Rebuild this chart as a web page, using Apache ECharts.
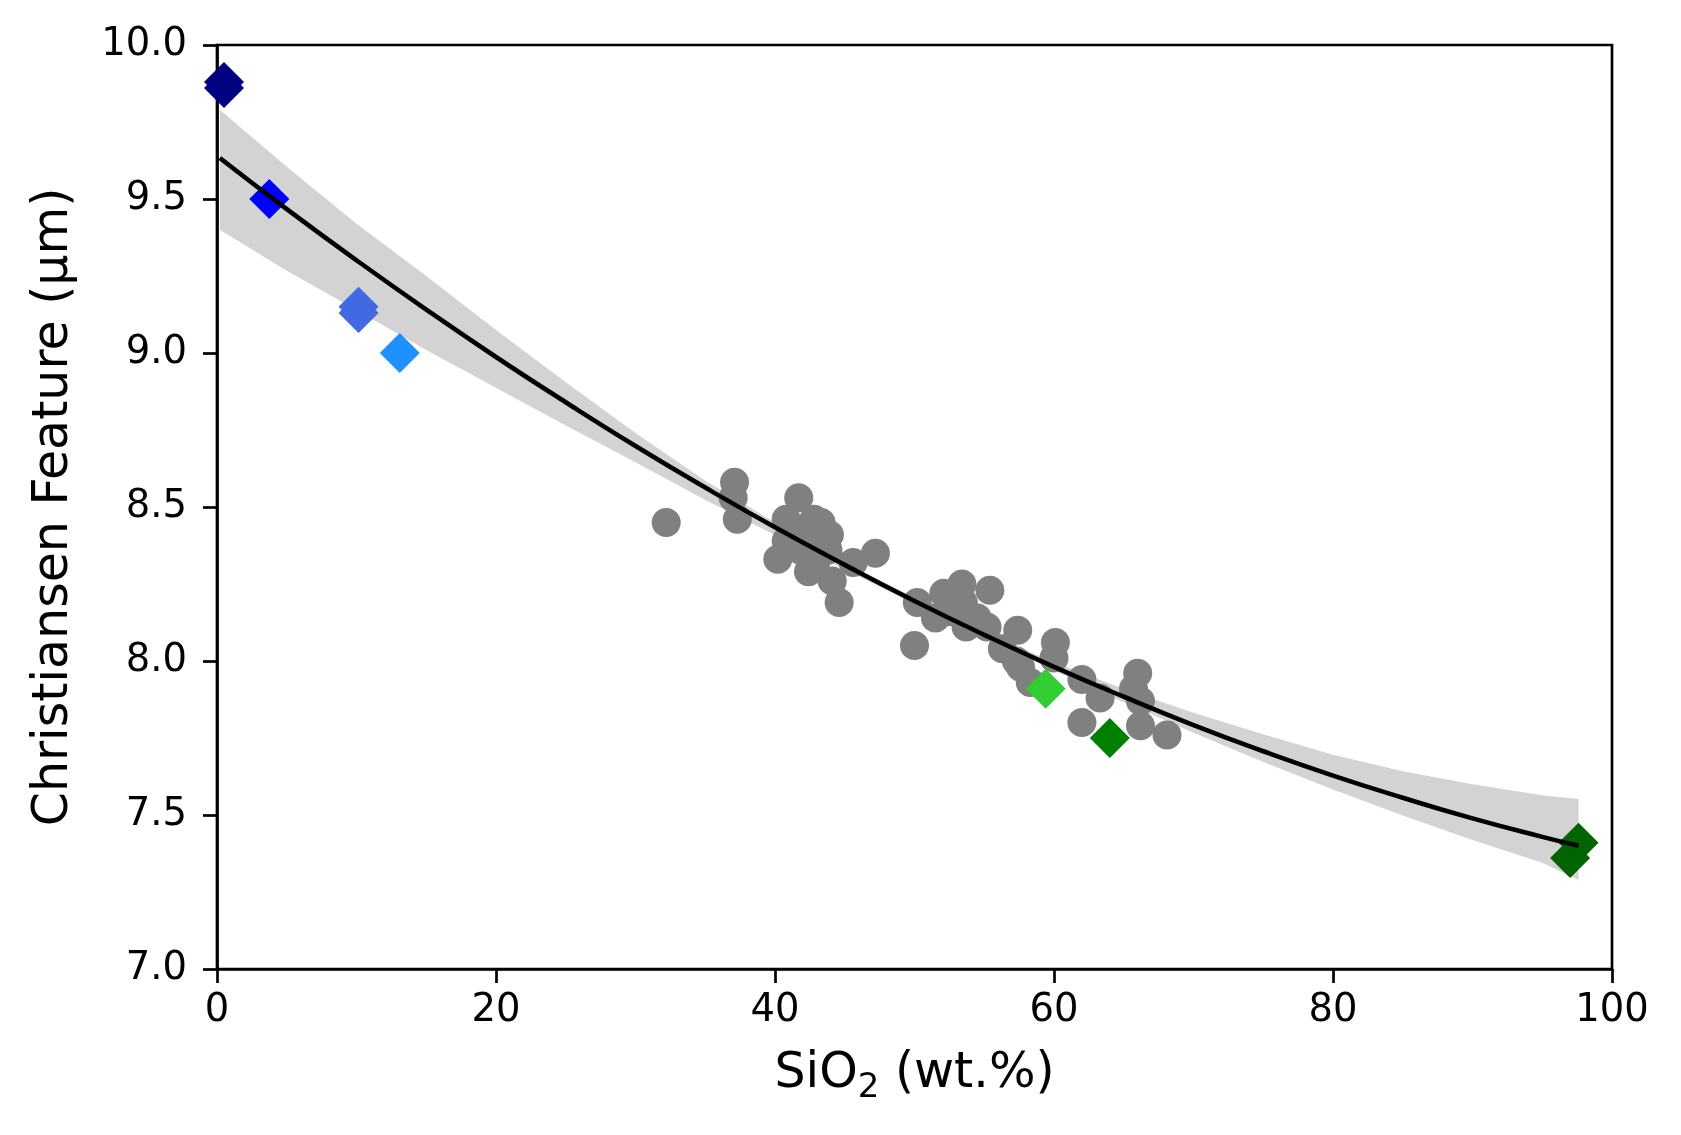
<!DOCTYPE html>
<html lang="en">
<head>
    <meta charset="utf-8">
    <title>Christiansen Feature vs SiO2</title>
    <style>
        html, body { margin: 0; padding: 0; background: #fff; }
        #main { width: 1681px; height: 1135px; }
    </style>
</head>
<body>
<div id="main"></div>
<script src="https://cdn.jsdelivr.net/npm/echarts@6/dist/echarts.min.js"></script>
<script>
    // fit curve + band
    var fitX     = [0.2, 5, 10, 15, 20, 25, 30, 35, 40, 45, 50, 55, 60, 65, 70, 75, 80, 85, 90, 95, 97.6];
    var fitY     = [9.633, 9.467, 9.301, 9.141, 8.987, 8.840, 8.698, 8.563, 8.434, 8.312, 8.195, 8.085, 7.981, 7.884, 7.792, 7.707, 7.628, 7.556, 7.489, 7.429, 7.400];
    var bandHigh = [9.79, 9.605, 9.42, 9.25, 9.075, 8.905, 8.74, 8.585, 8.45, 8.32, 8.205, 8.095, 7.996, 7.909, 7.832, 7.762, 7.696, 7.642, 7.600, 7.564, 7.552];
    var bandLow  = [9.40, 9.267, 9.14, 9.01, 8.887, 8.765, 8.645, 8.523, 8.409, 8.297, 8.185, 8.075, 7.969, 7.866, 7.767, 7.672, 7.583, 7.498, 7.419, 7.345, 7.289];

    // grey samples
    var rockPts = [
        [32.2, 8.45], [37.1, 8.58], [37.0, 8.53], [37.3, 8.46],
        [41.7, 8.53], [40.2, 8.33], [40.8, 8.46], [42.8, 8.46], [43.7, 8.40],
        [43.8, 8.36], [42.4, 8.29], [44.1, 8.26], [40.8, 8.39], [41.8, 8.36],
        [44.6, 8.19], [45.6, 8.32], [47.2, 8.35], [42.2, 8.43], [43.0, 8.33],
        [41.5, 8.42], [42.5, 8.37], [43.3, 8.45], [43.9, 8.41],
        [50.2, 8.19], [50.0, 8.05], [52.1, 8.22], [53.4, 8.25], [55.4, 8.23],
        [51.5, 8.14], [53.7, 8.11], [55.2, 8.11], [52.5, 8.16], [53.5, 8.19],
        [52.8, 8.18], [54.5, 8.14],
        [57.4, 8.10], [56.3, 8.04], [60.1, 8.06], [60.0, 8.01], [58.3, 7.93],
        [57.3, 8.00], [57.6, 7.98], [62.0, 7.94], [63.3, 7.88], [62.0, 7.80],
        [66.0, 7.96], [65.7, 7.91], [66.2, 7.87], [66.2, 7.79], [68.1, 7.76]
    ];

    // coloured standards (diamonds)
    var navyPts      = [[0.5, 9.88], [0.5, 9.86]];
    var bluePts      = [[3.75, 9.50]];
    var royalPts     = [[10.15, 9.15], [10.15, 9.13]];
    var dodgerPts    = [[13.1, 9.00]];
    var limePts      = [[59.4, 7.91]];
    var greenPts     = [[64.0, 7.75]];
    var darkGreenPts = [[97.6, 7.41], [97.0, 7.36]];

    var font = 'DejaVu Sans';

    function diamonds(pts, color) {
        return {
            type: 'scatter',
            data: pts,
            symbol: 'diamond',
            symbolSize: 40,
            itemStyle: { color: color, opacity: 1 },
            z: 3
        };
    }

    var myChart = echarts.init(document.getElementById('main'));
    var option = {
        animation: false,
        backgroundColor: '#fff',
        grid: {
            left: 217, right: 69, top: 45, bottom: 166,
            show: true, borderColor: '#000', borderWidth: 2.7, backgroundColor: 'transparent'
        },
        xAxis: {
            type: 'value',
            min: 0, max: 100, interval: 20,
            name: '{n|SiO}{s|2}{n| (wt.%)}',
            nameLocation: 'middle',
            nameGap: 81,
            nameTextStyle: {
                color: '#000',
                rich: {
                    n: { fontFamily: font, fontSize: 49, color: '#000', verticalAlign: 'top', padding: [0, 0, 6, 0] },
                    s: { fontFamily: font, fontSize: 34, color: '#000', verticalAlign: 'bottom' }
                }
            },
            axisLine: { show: true, lineStyle: { color: '#000', width: 2.7 } },
            axisTick: { show: true, inside: false, length: 14, lineStyle: { color: '#000', width: 2.7 } },
            axisLabel: { fontFamily: font, fontSize: 38.5, color: '#000', margin: 22 },
            splitLine: { show: false }
        },
        yAxis: {
            type: 'value',
            min: 7, max: 10, interval: 0.5,
            name: 'Christiansen Feature (µm)',
            nameLocation: 'middle',
            nameGap: 138,
            nameTextStyle: { fontFamily: font, fontSize: 49, color: '#000' },
            axisLine: { show: true, lineStyle: { color: '#000', width: 2.7 } },
            axisTick: { show: true, inside: false, length: 14, lineStyle: { color: '#000', width: 2.7 } },
            axisLabel: {
                fontFamily: font, fontSize: 38.5, color: '#000', margin: 30,
                formatter: function (v) { return v.toFixed(1); }
            },
            splitLine: { show: false }
        },
        series: [
            {
                type: 'custom',
                data: [[fitX[0], bandLow[0]]],
                z: 1,
                renderItem: function (params, api) {
                    var pts = [];
                    for (var i = 0; i < fitX.length; i++) {
                        pts.push(api.coord([fitX[i], bandHigh[i]]));
                    }
                    for (var j = fitX.length - 1; j >= 0; j--) {
                        pts.push(api.coord([fitX[j], bandLow[j]]));
                    }
                    return {
                        type: 'polygon',
                        shape: { points: pts },
                        style: { fill: '#d3d3d3' }
                    };
                }
            },
            {
                type: 'scatter',
                data: rockPts,
                symbol: 'circle',
                symbolSize: 29,
                itemStyle: { color: '#808080', opacity: 1 },
                z: 2
            },
            diamonds(navyPts, '#000080'),
            diamonds(bluePts, '#0000ff'),
            diamonds(royalPts, '#4169e1'),
            diamonds(dodgerPts, '#1e90ff'),
            diamonds(limePts, '#32cd32'),
            diamonds(greenPts, '#008000'),
            diamonds(darkGreenPts, '#006400'),
            {
                type: 'line',
                data: fitX.map(function (x, i) { return [x, fitY[i]]; }),
                showSymbol: false,
                smooth: true,
                lineStyle: { color: '#000', width: 4.6 },
                z: 4
            }
        ]
    };

    myChart.setOption(option);
</script>
</body>
</html>
